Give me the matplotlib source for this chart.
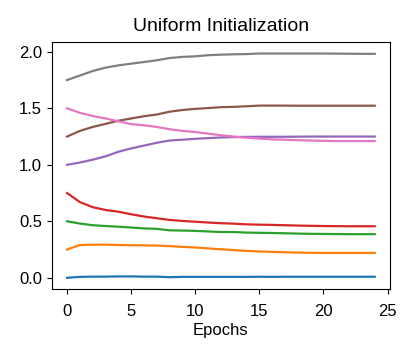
import matplotlib
matplotlib.use("Agg")
import matplotlib.pyplot as plt
import numpy as np

plt.rcParams['font.family'] = ['Liberation Sans', 'DejaVu Sans']

epochs = np.arange(25)

# one series per initial value
s0 = [0.0, 0.008, 0.01, 0.01, 0.012, 0.012, 0.01, 0.01, 0.005, 0.008, 0.008, 0.008, 0.008, 0.008,
      0.008, 0.009, 0.008, 0.009, 0.009, 0.009, 0.009, 0.009, 0.009, 0.009, 0.009]
s1 = [0.25, 0.29, 0.293, 0.293, 0.29, 0.288, 0.287, 0.285, 0.28, 0.274, 0.268, 0.26, 0.252, 0.245,
      0.238, 0.233, 0.229, 0.226, 0.223, 0.221, 0.22, 0.22, 0.22, 0.22, 0.22]
s2 = [0.5, 0.48, 0.465, 0.458, 0.452, 0.445, 0.437, 0.433, 0.42, 0.418, 0.415, 0.41, 0.405, 0.405,
      0.4, 0.398, 0.396, 0.394, 0.391, 0.389, 0.388, 0.387, 0.386, 0.386, 0.386]
s3 = [0.75, 0.67, 0.625, 0.6, 0.585, 0.562, 0.542, 0.527, 0.512, 0.503, 0.496, 0.489, 0.483, 0.479,
      0.473, 0.47, 0.468, 0.465, 0.462, 0.46, 0.458, 0.457, 0.456, 0.456, 0.456]
s4 = [1.0, 1.02, 1.045, 1.075, 1.115, 1.145, 1.17, 1.195, 1.215, 1.222, 1.23, 1.236, 1.242, 1.245,
      1.247, 1.248, 1.248, 1.248, 1.249, 1.25, 1.25, 1.25, 1.25, 1.25, 1.25]
s5 = [1.25, 1.3, 1.335, 1.362, 1.39, 1.41, 1.43, 1.445, 1.47, 1.485, 1.495, 1.502, 1.51, 1.513,
      1.518, 1.524, 1.524, 1.524, 1.523, 1.523, 1.523, 1.523, 1.523, 1.523, 1.523]
s6 = [1.5, 1.46, 1.432, 1.41, 1.385, 1.36, 1.35, 1.335, 1.315, 1.3, 1.29, 1.276, 1.262, 1.25,
      1.24, 1.232, 1.225, 1.222, 1.218, 1.215, 1.212, 1.21, 1.21, 1.21, 1.21]
s7 = [1.75, 1.79, 1.83, 1.86, 1.88, 1.895, 1.91, 1.925, 1.945, 1.955, 1.96, 1.97, 1.975, 1.978,
      1.98, 1.985, 1.985, 1.985, 1.985, 1.985, 1.985, 1.984, 1.983, 1.982, 1.982]

series = [s0, s1, s2, s3, s4, s5, s6, s7]

fig = plt.figure(figsize=(4.15, 3.56), dpi=100)
ax = fig.add_axes([0.1245, 0.188, 0.8155, 0.695])

for s in series:
    ax.plot(epochs, s, lw=1.6)

ax.set_xlim(-1.2, 25.2)
ax.set_ylim(-0.1, 2.09)
ax.set_xticks([0, 5, 10, 15, 20, 25])
ax.set_yticks([0.0, 0.5, 1.0, 1.5, 2.0])
ax.tick_params(labelsize=12)
ax.tick_params(axis='x', pad=7)
ax.set_xlabel("Epochs", fontsize=12, labelpad=3)
ax.set_title("Uniform Initialization", fontsize=14, pad=8)

fig.savefig("out.png", dpi=100)
